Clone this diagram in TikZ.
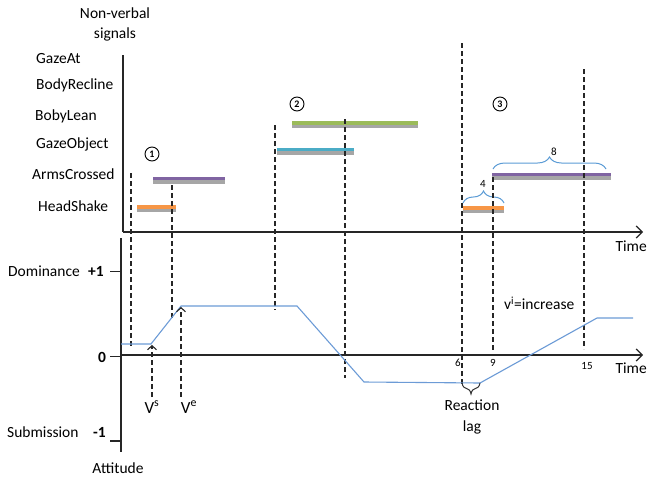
\documentclass[tikz,border=0pt]{standalone}
\usepackage{fontspec}
\setmainfont{Carlito}
\usetikzlibrary{arrows.meta,decorations.pathreplacing}
\definecolor{cOrange}{HTML}{F79646}
\definecolor{cPurple}{HTML}{8064A2}
\definecolor{cGreen}{HTML}{9BBB59}
\definecolor{cTeal}{HTML}{4BACC6}
\definecolor{cCurve}{HTML}{6C9BD6}
\definecolor{cBrace}{HTML}{5B9BD5}
\definecolor{cShadow}{HTML}{A6A6A6}
\begin{document}
\begin{tikzpicture}[x=1pt,y=-1pt,
  font=\fontsize{15.5}{18}\selectfont,
  lbl/.style={anchor=west, inner sep=0pt},
  ctr/.style={inner sep=0pt},
  small/.style={inner sep=0pt, font=\fontsize{11}{13}\selectfont},
  axisline/.style={line width=1.4pt, black!85, -{Straight Barb[length=6pt,width=12pt,line width=1.2pt]}},
  yaxis/.style={line width=1.4pt, black!85},
  dline/.style={line width=1.2pt, dash pattern=on 5pt off 3pt, black!85},
  varrow/.style={dline, -{Straight Barb[length=4pt,width=9pt,line width=1.1pt]}},
  sigbar/.style={line width=3.6pt},
  shadowbar/.style={line width=3.6pt, cShadow},
  numcirc/.style={circle, draw, line width=0.9pt, inner sep=0pt, minimum size=14pt, font=\fontsize{10}{12}\selectfont\bfseries},
  cbrace/.style={decorate, decoration={brace, amplitude=12pt}, line width=1pt, cBrace},
  curve/.style={line width=1.1pt, cCurve}
]
\useasboundingbox (0,0) rectangle (648,480);

% ---------- labels top chart ----------
\node[ctr] (nv1) at (115,13) {Non-verbal};
\node[ctr] (nv2) at (115,34) {signals};
\node[lbl] (sGaze) at (36,59) {GazeAt};
\node[lbl] (sRecl) at (36,85) {BodyRecline};
\node[lbl] (sLean) at (35,116) {BobyLean};
\node[lbl] (sGObj) at (36,144) {GazeObject};
\node[lbl] (sArms) at (32,174) {ArmsCrossed};
\node[lbl] (sHead) at (38,206) {HeadShake};

% ---------- top axes ----------
\coordinate (tO) at (123,232);
\coordinate (tY) at (123,55);
\coordinate (tX) at (643,232);
\draw[yaxis] (tY) -- (tO);
\draw[axisline] (tO) -- (tX);
\node[anchor=east, inner sep=0pt] (tTime) at (647,246) {Time};

% ---------- circled numbers ----------
\node[numcirc] (n1) at (152,154) {1};
\node[numcirc] (n2) at (297,104) {2};
\node[numcirc] (n3) at (500,104) {3};

% ---------- bars ----------
\draw[shadowbar] (137,210.5) -- (176,210.5);
\draw[sigbar,cOrange] (137,207) -- (176,207);
\draw[shadowbar] (153,182) -- (225,182);
\draw[sigbar,cPurple] (153,178.5) -- (225,178.5);
\draw[shadowbar] (292,126.5) -- (418,126.5);
\draw[sigbar,cGreen] (292,123) -- (418,123);
\draw[shadowbar] (277,153) -- (354,153);
\draw[sigbar,cTeal] (277,149.5) -- (354,149.5);
\draw[shadowbar] (463,211.5) -- (504,211.5);
\draw[sigbar,cOrange] (463,208) -- (504,208);
\draw[shadowbar] (492,178) -- (611,178);
\draw[sigbar,cPurple] (492,174.5) -- (611,174.5);

% ---------- braces ----------
\coordinate (b4a) at (463,203);
\coordinate (b4b) at (504,203);
\draw[cbrace] (b4a) -- (b4b);
\node[small] (l4) at (483,184) {4};
\coordinate (b8a) at (493,169);
\coordinate (b8b) at (606,169);
\draw[cbrace] (b8a) -- (b8b);
\node[small] (l8) at (554,152) {8};

% ---------- dashed vertical lines ----------
\draw[dline] (131,173) -- (131,348);
\draw[dline] (172,185) -- (172,318);
\draw[dline] (275,125) -- (275,310);
\draw[dline] (345,119) -- (345,378);
\draw[dline] (462,43) -- (462,385);
\draw[dline] (493,177) -- (493,352);
\draw[dline] (584,69) -- (584,349);

% ---------- bottom axes ----------
\coordinate (bO) at (121,355);
\coordinate (bYt) at (121,238);
\coordinate (bYb) at (121,452);
\coordinate (bX) at (643,355);
\draw[yaxis] (bYt) -- (bYb);
\draw[axisline] (bO) -- (bX);
\draw[yaxis] (110,271.5) -- (121,271.5);
\draw[yaxis] (110,356.5) -- (121,356.5);
\draw[yaxis] (110,441) -- (121,441);
\node[lbl] (dom) at (8,271) {Dominance};
\node[lbl] (p1) at (88,271) {\bfseries +1};
\node[ctr] (z0) at (102,357) {\bfseries 0};
\node[lbl] (sub) at (7,432) {Submission};
\node[lbl] (m1) at (93,432) {\bfseries -1};
\node[ctr] (att) at (118,468) {Attitude};
\node[anchor=east, inner sep=0pt] (bTime) at (647,368) {Time};
\node[small] (t6) at (458,363) {6};
\node[small] (t9) at (493,363) {9};
\node[small] (t15) at (587,366) {15};

% ---------- attitude curve ----------
\draw[curve] (121,344) -- (151,344) -- (181,306) -- (297,306) -- (364,382)
  -- (480,383) -- (597,318) -- (633,318);

% ---------- V arrows ----------
\coordinate (vsB) at (152,397);
\coordinate (vsT) at (152,345);
\coordinate (veB) at (181,397);
\coordinate (veT) at (181,307);
\draw[varrow] (vsB) -- (vsT);
\draw[varrow] (veB) -- (veT);
\node[ctr, font=\fontsize{17}{20}\selectfont] (vs) at (152,407) {V\textsuperscript{s}};
\node[ctr, font=\fontsize{17}{20}\selectfont] (ve) at (189,407) {V\textsuperscript{e}};

% ---------- reaction lag ----------
\coordinate (rla) at (480,383);
\coordinate (rlb) at (462,383);
\draw[decorate, decoration={brace, amplitude=11pt}, line width=1pt, black!80] (rla) -- (rlb);
\node[ctr] (rl1) at (472,405) {Reaction};
\node[ctr] (rl2) at (472,427) {lag};
\node[lbl] (vi) at (504,303) {v\textsuperscript{i}=increase};
\end{tikzpicture}
\end{document}
